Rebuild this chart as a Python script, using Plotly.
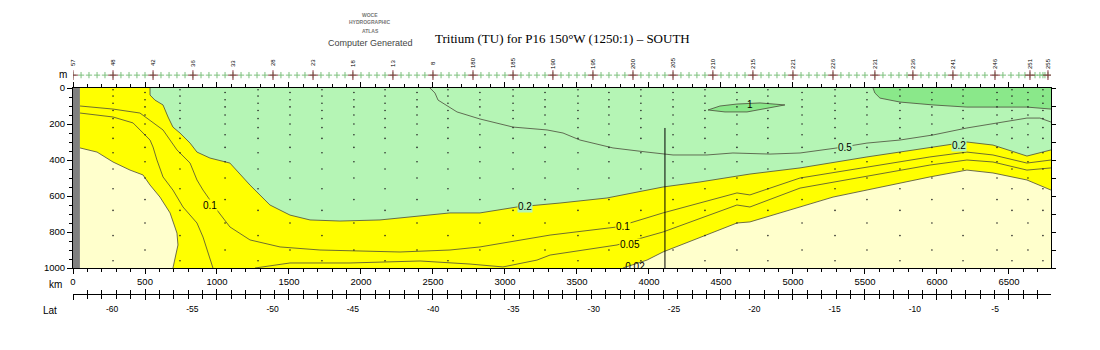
import plotly.graph_objects as go

# ---------------------------------------------------------------------------
# Section geometry
# ---------------------------------------------------------------------------
X_MAX = 6792          # km, end of section
DEPTH_MAX = 1000      # m
WALL_KM = 48          # grey bottom/wall strip at the southern end
JOIN_KM = 4111        # vertical join line in the section
JOIN_TOP = 222        # m, top of the join line

# ---------------------------------------------------------------------------
# Isolines of tritium (distance km, depth m)
# ---------------------------------------------------------------------------
c002_w_km = [49, 167, 278, 396, 486, 535, 604, 674, 722, 729, 694]
c002_w_m = [333, 356, 411, 456, 483, 539, 606, 694, 806, 872, 1000]

c002_e_km = [3819, 3986, 4097, 4611, 4701, 4979, 5278, 5951, 6208, 6389, 6625, 6792]
c002_e_m = [1000, 956, 911, 750, 744, 678, 606, 494, 456, 472, 511, 567]

c005_w_km = [49, 278, 417, 465, 535, 556, 583, 625, 694, 764, 861, 903, 972]
c005_w_m = [139, 161, 194, 233, 289, 328, 400, 494, 567, 661, 750, 828, 1000]

c005_m_km = [1264, 1507, 1924, 2410, 2757, 2986, 3222, 3313, 3778, 4097, 4611, 4701,
             5049, 5951, 6208, 6389, 6625, 6792]
c005_m_m = [1000, 972, 972, 961, 978, 994, 956, 928, 872, 800, 650, 661,
            556, 428, 400, 411, 456, 444]

c01_km = [49, 278, 465, 625, 722, 813, 861, 903, 951, 1000, 1090, 1229, 1438, 1715,
          2271, 2618, 2826, 3313, 3778, 4097, 4611, 4701, 5049, 5951, 6208, 6389,
          6625, 6792]
c01_m = [100, 117, 139, 233, 344, 417, 511, 567, 622, 678, 772, 844, 883, 900,
         911, 900, 883, 817, 772, 694, 583, 594, 500, 383, 356, 372, 417, 400]

c02_km = [535, 535, 569, 625, 660, 694, 743, 813, 861, 951, 1090, 1229, 1368, 1507,
          1646, 1854, 2132, 2410, 2618, 2826, 3083, 3382, 3708, 4097, 4354, 4701,
          5049, 5514, 5951, 6208, 6389, 6625, 6792]
c02_m = [0, 39, 67, 94, 161, 217, 250, 306, 356, 389, 417, 539, 650, 706,
         733, 739, 733, 711, 694, 694, 661, 639, 611, 550, 522, 478,
         444, 383, 333, 300, 317, 378, 344]

c05_km = [2479, 2514, 2535, 2618, 2667, 2826, 3056, 3292, 3403, 3521, 3750, 3986,
          4167, 4403, 4583, 4840, 5049, 5306, 5514, 5743, 5972, 6208, 6417, 6625,
          6715, 6792]
c05_m = [0, 28, 67, 111, 133, 172, 217, 233, 250, 289, 333, 356,
         372, 372, 361, 367, 361, 333, 306, 289, 261, 222, 194, 167,
         167, 189]

c1_km = [5556, 5569, 5604, 5743, 5972, 6208, 6438, 6625, 6792]
c1_m = [0, 28, 56, 78, 94, 106, 106, 106, 117]

lens_km = [4410, 4493, 4611, 4771, 4944, 4771, 4681, 4528, 4410]
lens_m = [122, 100, 89, 83, 94, 117, 133, 133, 122]

# contour labels: (text, km, m, background)
contour_labels = [
    ("0.1", 951, 650, "yellow"),
    ("0.2", 3139, 661, "green"),
    ("0.1", 3819, 772, "yellow"),
    ("0.05", 3868, 872, "yellow"),
    ("0.5", 5361, 333, "green"),
    ("0.2", 6153, 317, "green"),
    ("1", 4701, 89, None),
]
bottom_label = ("0.02", 3903, 996)

# ---------------------------------------------------------------------------
# Stations
# ---------------------------------------------------------------------------
station_km = [0, 56, 111, 167, 222, 278, 333, 389, 444, 500, 556, 611, 667, 722, 778,
              833, 889, 944, 1000, 1056, 1111, 1167, 1222, 1278, 1333, 1389, 1444,
              1500, 1556, 1611, 1667, 1722, 1778, 1833, 1889, 1944, 2000, 2056, 2111,
              2167, 2222, 2278, 2333, 2389, 2444, 2500, 2556, 2611, 2667, 2722, 2778,
              2833, 2889, 2944, 3000, 3056, 3111, 3167, 3222, 3278, 3333, 3389, 3444,
              3500, 3556, 3611, 3667, 3722, 3778, 3833, 3889, 3944, 4000, 4056, 4111,
              4167, 4222, 4278, 4333, 4389, 4444, 4500, 4556, 4611, 4667, 4722, 4778,
              4833, 4889, 4944, 5000, 5056, 5111, 5167, 5222, 5278, 5333, 5389, 5444,
              5500, 5569, 5625, 5681, 5736, 5792, 5833, 5889, 5944, 6000, 6056, 6111,
              6167, 6222, 6278, 6333, 6403, 6458, 6514, 6569, 6611, 6646, 6681, 6715,
              6736, 6750, 6771]
station_label_km = [0, 278, 556, 833, 1111, 1389, 1667, 1944, 2222, 2500, 2778, 3056,
                    3333, 3611, 3889, 4167, 4444, 4722, 5000, 5278, 5569, 5833, 6111,
                    6403, 6646, 6771]
station_label_text = ["57", "48", "42", "36", "33", "28", "23", "18", "13", "8", "180",
                      "185", "190", "195", "200", "205", "210", "215", "221", "226",
                      "231", "236", "241", "246", "251", "255"]

# bottle samples
sample_station_km = [278, 500, 743, 1056, 1285, 1507, 1729, 1951, 2167, 2389, 2604,
                     2826, 3056, 3278, 3507, 3722, 3944, 4167, 4389, 4611, 4826, 5063,
                     5292, 5514, 5743, 5965, 6181, 6417, 6521, 6632, 6736]
sample_depths_a = [10, 45, 85, 125, 170, 220, 280, 360, 450, 560, 680, 820, 960]
sample_depths_b = [25, 65, 105, 150, 200, 260, 330, 410, 500, 620, 750, 900]

# latitude axis
lat_range = [-62.43, -1.52]
lat_ticks = [-60, -55, -50, -45, -40, -35, -30, -25, -20, -15, -10, -5]

# ---------------------------------------------------------------------------
# Colours
# ---------------------------------------------------------------------------
LIGHT_GREEN = "#b5f5b5"
DARK_GREEN = "#8ae88a"
YELLOW = "#ffff00"
CREAM = "#ffffcc"
WALL = "#808080"
ISOLINE = "#4a4a3a"
FONT = "Liberation Sans"

fig = go.Figure()


def area(xs, ys, color, line_width=0):
    fig.add_trace(go.Scatter(
        x=xs, y=ys, mode="lines", fill="toself", fillcolor=color,
        line=dict(width=line_width, color=ISOLINE), hoverinfo="skip", showlegend=False))


def isoline(xs, ys):
    fig.add_trace(go.Scatter(
        x=xs, y=ys, mode="lines", line=dict(width=0.8, color=ISOLINE),
        hoverinfo="skip", showlegend=False))


# filled bands
area([0] + c02_km + [X_MAX, 0], [0] + c02_m + [DEPTH_MAX, DEPTH_MAX], YELLOW)
area([0] + c002_w_km + [0], [c002_w_m[0]] + c002_w_m + [DEPTH_MAX], CREAM)
area(c002_e_km + [X_MAX], c002_e_m + [DEPTH_MAX], CREAM)
area(c1_km + [X_MAX], c1_m + [0], DARK_GREEN)
area(lens_km, lens_m, DARK_GREEN, line_width=0.8)

# isolines
for xs, ys in [(c002_w_km, c002_w_m), (c002_e_km, c002_e_m), (c005_w_km, c005_w_m),
               (c005_m_km, c005_m_m), (c01_km, c01_m), (c02_km, c02_m),
               (c05_km, c05_m), (c1_km, c1_m)]:
    isoline(xs, ys)

# bottle sample dots
dot_x, dot_y = [], []
for i, km in enumerate(sample_station_km):
    depths = sample_depths_a if i % 2 == 0 else sample_depths_b
    dot_x += [km] * len(depths)
    dot_y += depths
fig.add_trace(go.Scatter(x=dot_x, y=dot_y, mode="markers",
                         marker=dict(size=1.6, color="#222222"),
                         hoverinfo="skip", showlegend=False))

# label sitting on the bottom edge (clipped by the frame)
fig.add_trace(go.Scatter(x=[bottom_label[1]], y=[bottom_label[2]], mode="text",
                         text=[bottom_label[0]], textposition="middle center",
                         textfont=dict(family=FONT, size=10, color="black"),
                         cliponaxis=True, hoverinfo="skip", showlegend=False))

# helper traces so the overlay axes are drawn
fig.add_trace(go.Scatter(x=[0], y=[0], xaxis="x2", mode="markers",
                         marker=dict(opacity=0), hoverinfo="skip", showlegend=False))
fig.add_trace(go.Scatter(x=[0], y=[0], xaxis="x3", mode="markers",
                         marker=dict(opacity=0), hoverinfo="skip", showlegend=False))
fig.add_trace(go.Scatter(x=[-30], y=[0], xaxis="x4", mode="markers",
                         marker=dict(opacity=0), hoverinfo="skip", showlegend=False))
fig.add_trace(go.Scatter(x=[0], y=[0], yaxis="y3", mode="markers",
                         marker=dict(opacity=0), hoverinfo="skip", showlegend=False))

# station crosses along the top
fig.add_trace(go.Scatter(x=station_km, y=[0.31] * len(station_km), xaxis="x5", yaxis="y2",
                         mode="markers",
                         marker=dict(symbol="cross-thin", size=4.5,
                                     line=dict(width=1, color="#7cc07c")),
                         hoverinfo="skip", showlegend=False))
fig.add_trace(go.Scatter(x=station_label_km, y=[0.31] * len(station_label_km),
                         xaxis="x5", yaxis="y2", mode="markers",
                         marker=dict(symbol="cross-thin", size=7,
                                     line=dict(width=1, color="#8a3040")),
                         hoverinfo="skip", showlegend=False))


def note(x, y, text, size, color="black", family=FONT, **kw):
    return dict(x=x, y=y, xref="paper", yref="paper", text=text, showarrow=False,
                xanchor="center", yanchor="middle",
                font=dict(family=family, size=size, color=color), **kw)


annotations = []
for km, txt in zip(station_label_km, station_label_text):
    annotations.append(dict(x=km, y=0.95, xref="x", yref="paper", text=txt,
                            textangle=-90, showarrow=False, xanchor="center",
                            yanchor="middle",
                            font=dict(family=FONT, size=6, color="black")))

bg = {"yellow": YELLOW, "green": LIGHT_GREEN, None: "rgba(0,0,0,0)"}
for txt, km, m, b in contour_labels:
    annotations.append(dict(x=km, y=m, xref="x", yref="y", text=txt, showarrow=False,
                            bgcolor=bg[b], borderpad=0, xanchor="center",
                            yanchor="middle",
                            font=dict(family=FONT, size=10, color="black")))

# titles and axis captions
annotations += [
    note(0.501, 1.046, "Tritium (TU) for P16 150°W (1250:1) – SOUTH", 13,
         family="Liberation Serif"),
    note(0.3037, 1.135, "<b>WOCE</b>", 5, "#777777"),
    note(0.3037, 1.108, "<b>HYDROGRAPHIC</b>", 5, "#777777"),
    note(0.3037, 1.073, "<b>ATLAS</b>", 5, "#777777"),
    note(0.3037, 1.027, "Computer Generated", 9, "#444444"),
    note(-0.0102, 0.904, "m", 10),
    note(-0.0184, 0.10, "km", 10),
    note(-0.0235, 0.0, "Lat", 10),
]

shapes = [
    dict(type="rect", xref="x", yref="y", x0=0, x1=X_MAX, y0=0, y1=DEPTH_MAX,
         fillcolor=LIGHT_GREEN, line=dict(width=0), layer="below"),
    dict(type="rect", xref="x", yref="y", x0=0, x1=WALL_KM, y0=0, y1=DEPTH_MAX,
         fillcolor=WALL, line=dict(width=0), layer="above"),
    dict(type="line", xref="x", yref="y", x0=JOIN_KM, x1=JOIN_KM, y0=JOIN_TOP, y1=DEPTH_MAX,
         line=dict(width=1, color="black")),
]

MAIN_DOMAIN = [0.1615, 0.8538]
LAT_LINE_POS = 0.0615
tickfont = dict(family=FONT, size=9.5, color="black")

fig.update_layout(
    width=1100, height=350,
    margin=dict(l=73, r=49, t=50, b=40),
    paper_bgcolor="white", plot_bgcolor="white",
    showlegend=False,
    annotations=annotations, shapes=shapes,
    xaxis=dict(range=[0, X_MAX], domain=[0, 1], anchor="y", showgrid=False, zeroline=False,
               showline=True, linecolor="black", linewidth=1, mirror="ticks",
               ticks="outside", tick0=0, dtick=500, ticklen=5, tickcolor="black",
               minor=dict(dtick=100, ticklen=3, ticks="outside", tickcolor="black"),
               tickfont=tickfont),
    yaxis=dict(range=[DEPTH_MAX, 0], domain=MAIN_DOMAIN, anchor="x", showgrid=False,
               zeroline=False, showline=True, linecolor="black", linewidth=1, mirror=True,
               ticks="outside", tick0=0, dtick=200, ticklen=5, tickcolor="black",
               minor=dict(dtick=50, ticklen=3, ticks="outside", tickcolor="black"),
               tickfont=tickfont),
    yaxis3=dict(range=[DEPTH_MAX, 0], overlaying="y", side="right", anchor="x",
                showgrid=False, zeroline=False, showline=False, ticks="outside",
                tick0=0, dtick=100, ticklen=4, tickcolor="black", showticklabels=False),
    xaxis2=dict(range=[0, X_MAX], overlaying="x", anchor="free", position=LAT_LINE_POS,
                showgrid=False, zeroline=False, showline=True, linecolor="black",
                ticks="outside", tick0=0, dtick=500, ticklen=5, tickcolor="black",
                minor=dict(dtick=100, ticklen=4, ticks="outside", tickcolor="black"),
                showticklabels=False),
    xaxis3=dict(range=[0, X_MAX], overlaying="x", anchor="free", position=LAT_LINE_POS,
                showgrid=False, zeroline=False, showline=False,
                ticks="inside", tick0=0, dtick=500, ticklen=5, tickcolor="black",
                minor=dict(dtick=100, ticklen=4, ticks="inside", tickcolor="black"),
                showticklabels=False),
    xaxis4=dict(range=lat_range, overlaying="x", anchor="free", position=0.027,
                showgrid=False, zeroline=False, showline=False, ticks="",
                tickmode="array", tickvals=lat_ticks, ticktext=[str(v) for v in lat_ticks],
                tickfont=dict(family=FONT, size=8.5, color="black")),
    xaxis5=dict(matches="x", domain=[0, 1], anchor="y2", visible=False),
    yaxis2=dict(range=[0, 1], domain=[0.86, 1.0], anchor="x5", visible=False),
)

fig.write_html("out.html")
